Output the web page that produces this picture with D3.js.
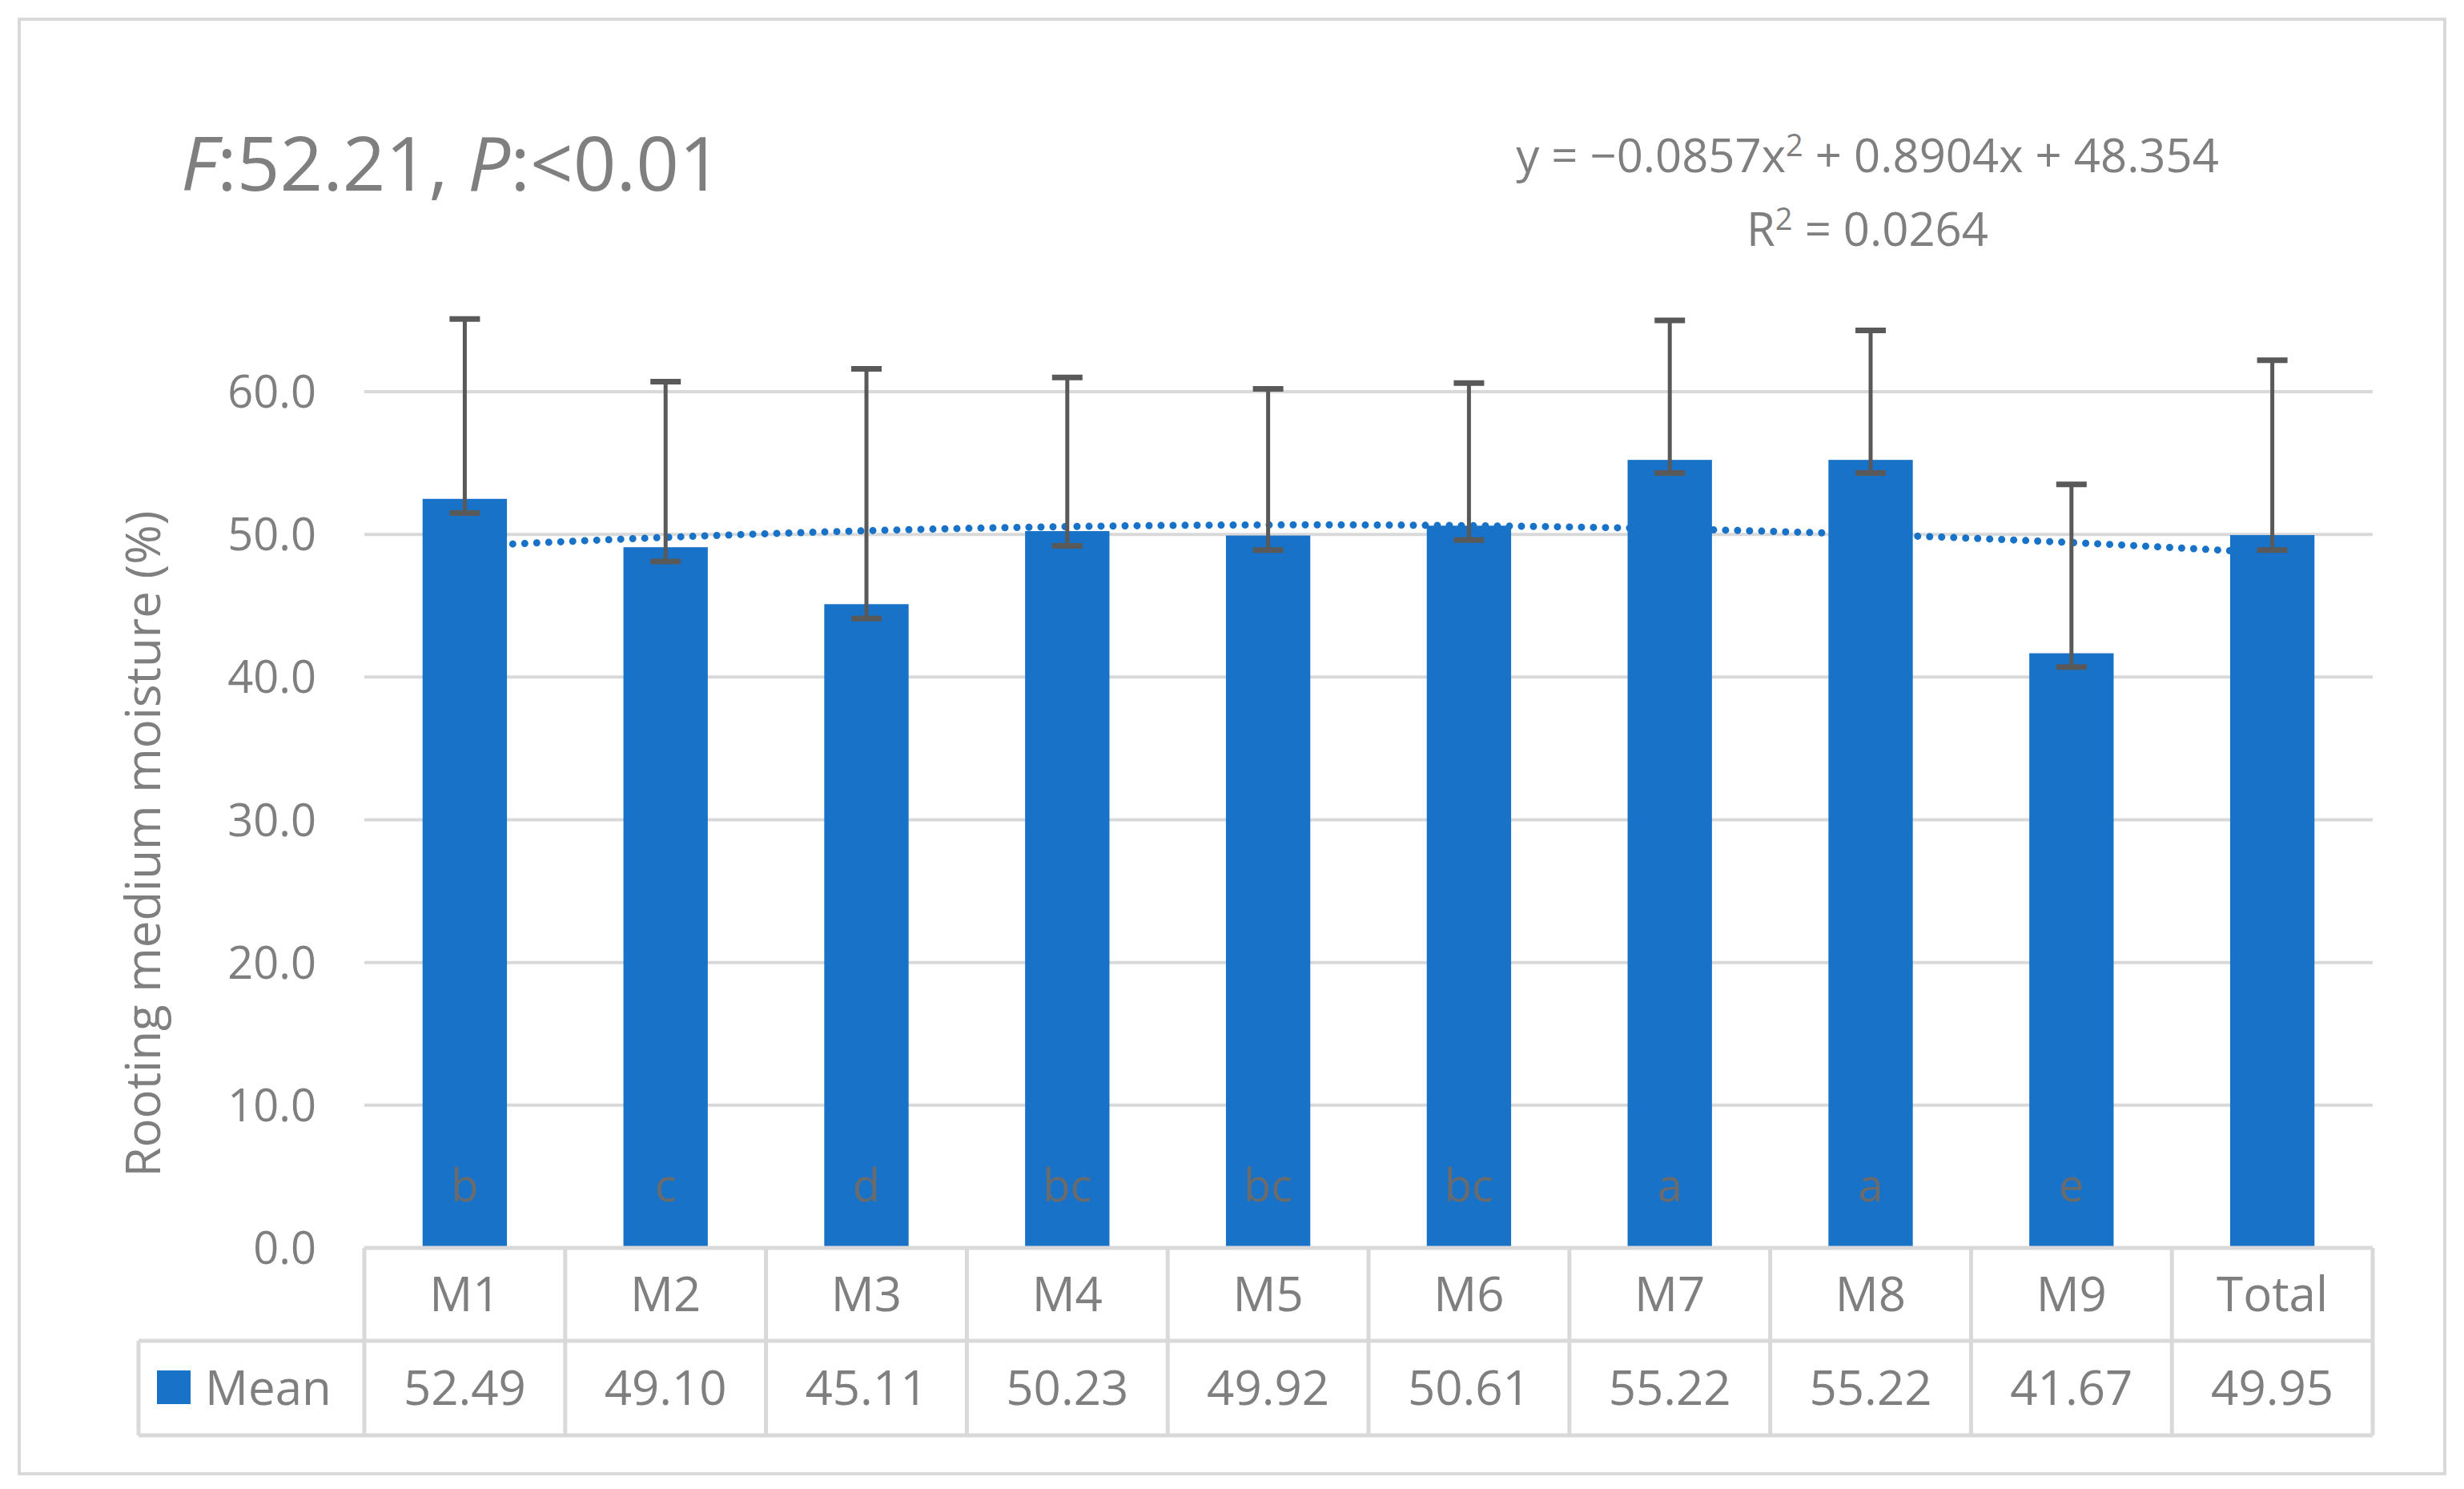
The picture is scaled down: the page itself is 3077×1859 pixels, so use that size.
<!DOCTYPE html>
<html><head><meta charset="utf-8">
<script src="https://cdn.jsdelivr.net/npm/d3@7"></script>
<style>body{margin:0;background:#fff}text{font-family:"Open Sans","Noto Sans",sans-serif}</style>
</head><body>
<script>
// chart data
var categories = ['M1','M2','M3','M4','M5','M6','M7','M8','M9','Total'];
var means = [52.49, 49.10, 45.11, 50.23, 49.92, 50.61, 55.22, 55.22, 41.67, 49.95];
var errUpper = [65.1, 60.7, 61.6, 61.0, 60.2, 60.6, 65.0, 64.3, 53.5, 62.2];
var errLower = [51.5, 48.1, 44.1, 49.2, 48.9, 49.6, 54.3, 54.3, 40.7, 48.9];
var letters = ['b','c','d','bc','bc','bc','a','a','e',''];
var yTicks = [0, 10, 20, 30, 40, 50, 60];
var trendCoef = [-0.0857, 0.8904, 48.354]; // from the trendline label

var W = 3077, H = 1859;
var left = 455, right = 2963, y0 = 1558, yTop = 489;
var grey = '#7f7f7f', blue = '#1872c8', line = '#d9d9d9';

var svg = d3.select('body').append('svg').attr('width', W).attr('height', H);
svg.append('rect').attr('x', 24).attr('y', 24).attr('width', 3029).attr('height', 1816)
  .attr('fill', 'none').attr('stroke', line).attr('stroke-width', 4);

var x = d3.scaleBand().domain(categories).range([left, right]).paddingInner(0.58).paddingOuter(0.29);
var xc = d3.scaleBand().domain(categories).range([left, right]);
var y = d3.scaleLinear().domain([0, 60]).range([y0, yTop]);

// gridlines
svg.selectAll('.grid').data(yTicks.slice(1)).enter().append('line')
  .attr('x1', left).attr('x2', right).attr('y1', y).attr('y2', y)
  .attr('stroke', line).attr('stroke-width', 4);

// y axis labels
svg.selectAll('.ytick').data(yTicks).enter().append('text')
  .attr('x', left - 60).attr('y', function (d) { return y(d) + 20; })
  .attr('text-anchor', 'end').attr('font-size', 56).attr('fill', grey)
  .text(function (d) { return d.toFixed(1); });

svg.append('text').attr('transform', 'translate(200,' + ((y0 + yTop) / 2 + 30) + ') rotate(-90)')
  .attr('text-anchor', 'middle').attr('font-size', 60).attr('fill', grey)
  .text('Rooting medium moisture (%)');

// bars
svg.selectAll('.bar').data(means).enter().append('rect')
  .attr('x', function (d, i) { return x(categories[i]); })
  .attr('width', x.bandwidth())
  .attr('y', function (d) { return y(d); })
  .attr('height', function (d) { return y0 - y(d); })
  .attr('fill', blue);

// letters inside bars
svg.selectAll('.let').data(letters).enter().append('text')
  .attr('x', function (d, i) { return xc(categories[i]) + xc.bandwidth() / 2; })
  .attr('y', y0 - 58).attr('text-anchor', 'middle').attr('font-size', 56).attr('fill', '#6b6b6b')
  .text(function (d) { return d; });

// trend line (dotted)
var pts = d3.range(1, 10.001, 0.05).map(function (t) {
  return [t, trendCoef[0] * t * t + trendCoef[1] * t + trendCoef[2]];
});
var tx = d3.scaleLinear().domain([1, 10])
  .range([xc('M1') + xc.bandwidth() / 2, xc('Total') + xc.bandwidth() / 2]);
svg.append('path').datum(pts)
  .attr('d', d3.line().x(function (d) { return tx(d[0]); }).y(function (d) { return y(d[1]); }))
  .attr('fill', 'none').attr('stroke', blue).attr('stroke-width', 9)
  .attr('stroke-dasharray', '0 15').attr('stroke-linecap', 'round');

// error bars
var eb = svg.selectAll('.err').data(categories).enter().append('g')
  .attr('transform', function (d) { return 'translate(' + (xc(d) + xc.bandwidth() / 2) + ',0)'; });
eb.append('line').attr('y1', function (d, i) { return y(errLower[i]); })
  .attr('y2', function (d, i) { return y(errUpper[i]); })
  .attr('stroke', '#595959').attr('stroke-width', 5);
eb.append('line').attr('x1', -19).attr('x2', 19)
  .attr('y1', function (d, i) { return y(errUpper[i]); }).attr('y2', function (d, i) { return y(errUpper[i]); })
  .attr('stroke', '#595959').attr('stroke-width', 7);
eb.append('line').attr('x1', -19).attr('x2', 19)
  .attr('y1', function (d, i) { return y(errLower[i]); }).attr('y2', function (d, i) { return y(errLower[i]); })
  .attr('stroke', '#595959').attr('stroke-width', 7);

// data table
var r1 = y0, r2 = 1674, r3 = 1792, tableLeft = 173;
var tl = svg.append('g').attr('stroke', line).attr('stroke-width', 5);
tl.append('line').attr('x1', left).attr('x2', right).attr('y1', r1).attr('y2', r1);
tl.append('line').attr('x1', tableLeft).attr('x2', right).attr('y1', r2).attr('y2', r2);
tl.append('line').attr('x1', tableLeft).attr('x2', right).attr('y1', r3).attr('y2', r3);
tl.append('line').attr('x1', tableLeft).attr('x2', tableLeft).attr('y1', r2).attr('y2', r3);
tl.selectAll('.v').data(categories.concat(['end'])).enter().append('line')
  .attr('x1', function (d, i) { return left + i * xc.bandwidth(); })
  .attr('x2', function (d, i) { return left + i * xc.bandwidth(); })
  .attr('y1', r1).attr('y2', r3);

svg.selectAll('.cat').data(categories).enter().append('text')
  .attr('x', function (d) { return xc(d) + xc.bandwidth() / 2; }).attr('y', (r1 + r2) / 2 + 21)
  .attr('text-anchor', 'middle').attr('font-size', 60).attr('fill', grey).text(function (d) { return d; });
svg.selectAll('.val').data(means).enter().append('text')
  .attr('x', function (d, i) { return xc(categories[i]) + xc.bandwidth() / 2; }).attr('y', (r2 + r3) / 2 + 21)
  .attr('text-anchor', 'middle').attr('font-size', 60).attr('fill', grey).text(function (d) { return d.toFixed(2); });
svg.append('rect').attr('x', 196).attr('y', 1711).attr('width', 42).attr('height', 42).attr('fill', blue);
svg.append('text').attr('x', 256).attr('y', (r2 + r3) / 2 + 21).attr('font-size', 60).attr('fill', grey).text('Mean');

// titles
var t = svg.append('text').attr('x', 226).attr('y', 238).attr('font-size', 94).attr('fill', grey);
t.append('tspan').attr('font-style', 'italic').text('F');
t.append('tspan').text(':52.21, ');
t.append('tspan').attr('font-style', 'italic').text('P');
t.append('tspan').text(':<0.01');

var eq = svg.append('text').attr('x', 2332).attr('y', 215).attr('text-anchor', 'middle').attr('font-size', 58).attr('fill', grey);
eq.append('tspan').text('y = \u22120.0857x');
eq.append('tspan').attr('dy', -20).attr('font-size', 38).text('2');
eq.append('tspan').attr('dy', 20).text(' + 0.8904x + 48.354');
var r2t = svg.append('text').attr('x', 2332).attr('y', 307).attr('text-anchor', 'middle').attr('font-size', 58).attr('fill', grey);
r2t.append('tspan').text('R');
r2t.append('tspan').attr('dy', -20).attr('font-size', 38).text('2');
r2t.append('tspan').attr('dy', 20).text(' = 0.0264');
</script>
</body></html>
